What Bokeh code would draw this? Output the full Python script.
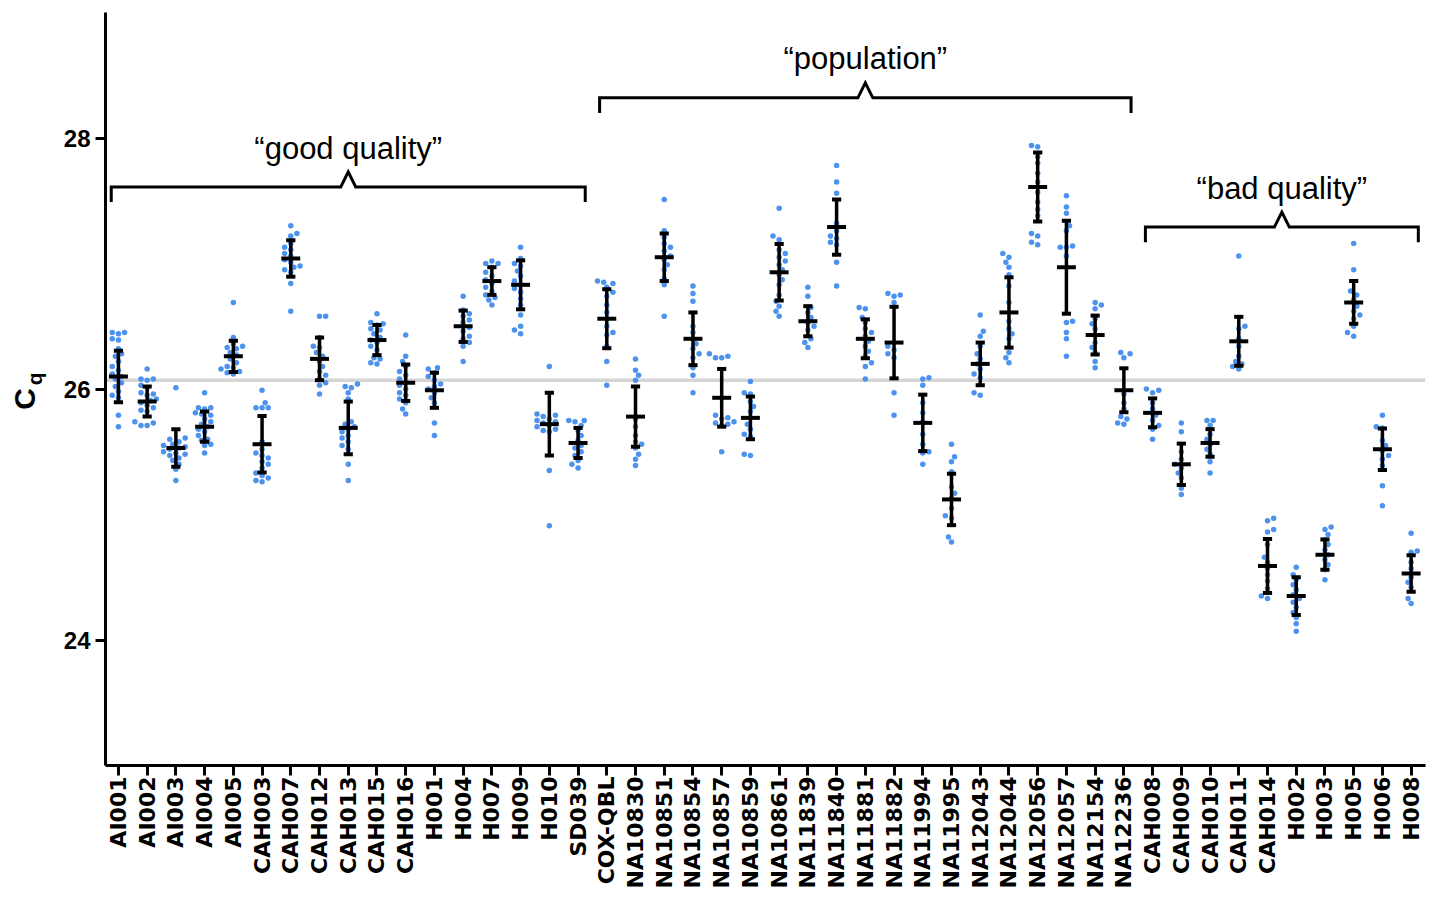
import math
from bokeh.plotting import figure
from bokeh.layouts import row
from bokeh.models import FixedTicker, Span, Range1d
from bokeh.core.properties import value
from bokeh.embed import file_html
from bokeh.resources import INLINE

# ---------------- data ----------------
samples = ["AI001", "AI002", "AI003", "AI004", "AI005", "CAH003", "CAH007", "CAH012",
           "CAH013", "CAH015", "CAH016", "H001", "H004", "H007", "H009", "H010", "SD039",
           "COX-QBL", "NA10830", "NA10851", "NA10854", "NA10857", "NA10859", "NA10861",
           "NA11839", "NA11840", "NA11881", "NA11882", "NA11994", "NA11995", "NA12043",
           "NA12044", "NA12056", "NA12057", "NA12154", "NA12236",
           "CAH008", "CAH009", "CAH010", "CAH011", "CAH014", "H002", "H003", "H005",
           "H006", "H008"]

means = [26.10, 25.90, 25.53, 25.70, 26.26, 25.56, 27.04, 26.24, 25.69, 26.39, 26.05,
         25.99, 26.50, 26.86, 26.83, 25.72, 25.57,
         26.56, 25.78, 27.05, 26.40, 25.93, 25.77, 26.93, 26.54, 27.29, 26.40, 26.37,
         25.73, 25.12, 26.20, 26.61, 27.61, 26.97, 26.43, 25.99,
         25.81, 25.40, 25.57, 26.38, 24.59, 24.35, 24.68, 26.69, 25.52, 24.53]

sds = [0.205, 0.12, 0.15, 0.12, 0.125, 0.225, 0.145, 0.17, 0.21, 0.12, 0.145,
       0.14, 0.125, 0.11, 0.195, 0.25, 0.12,
       0.235, 0.24, 0.19, 0.21, 0.23, 0.17, 0.225, 0.12, 0.22, 0.155, 0.285,
       0.225, 0.205, 0.17, 0.28, 0.275, 0.37, 0.155, 0.175,
       0.115, 0.165, 0.11, 0.195, 0.215, 0.15, 0.12, 0.17, 0.165, 0.145]

dots_good = [
    [26.45, 26.45, 26.44, 26.40, 26.39, 26.32, 26.28, 26.26, 26.22, 26.18, 26.15, 26.12,
     26.10, 26.08, 26.05, 26.02, 25.98, 25.95, 25.93, 25.79, 25.70],
    [26.16, 26.08, 26.08, 26.07, 26.03, 26.01, 25.97, 25.96, 25.95, 25.92, 25.91, 25.89,
     25.87, 25.85, 25.83, 25.82, 25.74, 25.73, 25.71, 25.71],
    [26.01, 25.61, 25.60, 25.58, 25.56, 25.55, 25.54, 25.53, 25.52, 25.50, 25.49, 25.48,
     25.47, 25.45, 25.43, 25.40, 25.36, 25.27],
    [25.97, 25.85, 25.85, 25.84, 25.81, 25.80, 25.79, 25.76, 25.74, 25.72, 25.70, 25.68,
     25.66, 25.63, 25.60, 25.59, 25.56, 25.55, 25.49],
    [26.69, 26.41, 26.36, 26.34, 26.33, 26.32, 26.29, 26.27, 26.24, 26.21, 26.18, 26.17,
     26.16, 26.14, 26.13, 26.12],
    [25.99, 25.89, 25.85, 25.85, 25.85, 25.58, 25.52, 25.49, 25.47, 25.45, 25.42, 25.40,
     25.37, 25.33, 25.31, 25.29, 25.27, 25.26],
    [27.30, 27.24, 27.22, 27.16, 27.13, 27.11, 27.08, 27.06, 27.03, 27.01, 26.98, 26.97,
     26.95, 26.93, 26.84, 26.62],
    [26.58, 26.58, 26.41, 26.34, 26.33, 26.29, 26.26, 26.22, 26.18, 26.14, 26.11, 26.08,
     26.05, 26.03, 25.96],
    [26.04, 26.02, 26.01, 25.97, 25.92, 25.74, 25.72, 25.70, 25.68, 25.66, 25.63, 25.61,
     25.58, 25.55, 25.52, 25.40, 25.27],
    [26.60, 26.53, 26.52, 26.51, 26.48, 26.47, 26.44, 26.41, 26.39, 26.37, 26.34, 26.31,
     26.25, 26.24, 26.21, 26.20],
    [26.43, 26.26, 26.22, 26.18, 26.14, 26.11, 26.08, 26.05, 26.03, 26.00, 25.97, 25.95,
     25.92, 25.89, 25.84, 25.80],
    [26.17, 26.16, 26.13, 26.10, 26.07, 26.04, 26.02, 26.00, 25.97, 25.93, 25.89, 25.73,
     25.63],
    [26.74, 26.63, 26.60, 26.58, 26.55, 26.53, 26.49, 26.46, 26.42, 26.40, 26.37, 26.34,
     26.22],
    [27.02, 27.00, 27.00, 26.97, 26.93, 26.90, 26.87, 26.84, 26.81, 26.78, 26.75, 26.73,
     26.71, 26.67],
    [27.13, 27.04, 27.00, 26.98, 26.94, 26.90, 26.86, 26.83, 26.80, 26.77, 26.72, 26.67,
     26.59, 26.50, 26.47, 26.44],
    [26.18, 25.80, 25.79, 25.78, 25.76, 25.75, 25.74, 25.73, 25.71, 25.70, 25.68, 25.67,
     25.66, 25.35, 24.91],
    [25.75, 25.75, 25.74, 25.71, 25.67, 25.63, 25.59, 25.55, 25.53, 25.50, 25.47, 25.43,
     25.40, 25.37],
]

dots_population = [
    [26.86, 26.85, 26.84, 26.81, 26.77, 26.74, 26.67, 26.61, 26.56, 26.50, 26.45, 26.43,
     26.34, 26.22, 26.03],
    [26.24, 26.15, 26.11, 26.07, 25.76, 25.70, 25.63, 25.58, 25.56, 25.53, 25.48, 25.44,
     25.39],
    [27.51, 27.26, 27.21, 27.16, 27.13, 27.10, 27.06, 27.03, 26.99, 26.95, 26.88, 26.83,
     26.58],
    [26.82, 26.76, 26.70, 26.50, 26.45, 26.40, 26.36, 26.32, 26.28, 26.25, 26.17, 26.11,
     25.97],
    [26.28, 26.26, 26.25, 26.25, 25.79, 25.77, 25.76, 25.74, 25.73, 25.72, 25.71, 25.50],
    [26.06, 25.97, 25.96, 25.90, 25.86, 25.82, 25.77, 25.72, 25.68, 25.64, 25.62, 25.48,
     25.47],
    [27.44, 27.22, 27.19, 27.11, 27.08, 27.05, 27.02, 26.99, 26.95, 26.91, 26.87, 26.83,
     26.75, 26.70, 26.66, 26.62, 26.58],
    [26.81, 26.74, 26.65, 26.61, 26.57, 26.53, 26.50, 26.47, 26.40, 26.37, 26.33],
    [27.78, 27.65, 27.56, 27.32, 27.26, 27.22, 27.20, 27.17, 27.15, 27.01, 26.82],
    [26.65, 26.64, 26.57, 26.53, 26.48, 26.45, 26.42, 26.38, 26.34, 26.30, 26.26, 26.21,
     26.18, 26.08],
    [26.76, 26.75, 26.74, 26.69, 26.34, 26.31, 26.28, 26.25, 25.97, 25.79],
    [26.09, 26.08, 26.03, 25.89, 25.81, 25.74, 25.64, 25.56, 25.50, 25.49, 25.40],
    [25.56, 25.46, 25.42, 25.34, 25.22, 25.17, 25.13, 25.05, 24.99, 24.97, 24.82, 24.78],
    [26.59, 26.46, 26.42, 26.34, 26.28, 26.24, 26.20, 26.16, 26.12, 26.09, 25.97, 25.95],
    [27.08, 27.05, 27.01, 26.97, 26.91, 26.82, 26.69, 26.54, 26.48, 26.44, 26.40, 26.29,
     26.25, 26.21],
    [27.94, 27.93, 27.85, 27.80, 27.72, 27.65, 27.57, 27.49, 27.43, 27.38, 27.24, 27.22,
     27.17, 27.15],
    [27.54, 27.45, 27.40, 27.30, 27.26, 27.14, 27.13, 27.13, 27.06, 26.54, 26.53, 26.45,
     26.40, 26.26],
    [26.69, 26.67, 26.64, 26.56, 26.52, 26.48, 26.43, 26.37, 26.33, 26.29, 26.22, 26.17],
    [26.29, 26.28, 26.25, 25.96, 25.89, 25.84, 25.78, 25.76, 25.73, 25.72],
]

dots_bad = [
    [26.00, 25.99, 25.97, 25.89, 25.84, 25.79, 25.75, 25.71, 25.68, 25.60],
    [25.73, 25.66, 25.50, 25.44, 25.40, 25.37, 25.33, 25.29, 25.21, 25.16],
    [25.75, 25.75, 25.71, 25.64, 25.60, 25.56, 25.52, 25.48, 25.42, 25.33],
    [27.06, 26.50, 26.48, 26.40, 26.34, 26.26, 26.22, 26.20, 26.18, 26.16],
    [24.97, 24.95, 24.88, 24.86, 24.76, 24.66, 24.62, 24.57, 24.52, 24.47, 24.41, 24.35,
     24.33],
    [24.58, 24.52, 24.48, 24.44, 24.40, 24.36, 24.33, 24.30, 24.26, 24.22, 24.18, 24.13,
     24.07],
    [24.90, 24.88, 24.84, 24.80, 24.76, 24.72, 24.68, 24.64, 24.60, 24.56, 24.48],
    [27.16, 26.95, 26.78, 26.75, 26.71, 26.66, 26.62, 26.59, 26.56, 26.50, 26.45, 26.42],
    [25.79, 25.70, 25.69, 25.59, 25.55, 25.51, 25.47, 25.44, 25.39, 25.23, 25.07],
    [24.85, 24.71, 24.70, 24.62, 24.57, 24.50, 24.46, 24.42, 24.33, 24.29],
]

reference_cq = 26.07

group_labels = ["\u201cgood quality\u201d", "\u201cpopulation\u201d", "\u201cbad quality\u201d"]
group_first = ["AI001", "COX-QBL", "CAH008"]
group_last = ["SD039", "NA12236", "H008"]
group_level = [27.61, 28.32, 27.29]

y_ticks = [24, 26, 28]
y_title_main = "C"
y_title_sub = "q"

# ---------------- layout constants ----------------
TOTAL_W, H = 1426, 891
LW = 50                       # width of the strip holding the y title
W = TOTAL_W - LW
B_LEFT, B_RIGHT, B_TOP, B_BOTTOM = 105 - LW, 1, 12, 123
X0, X1 = -0.45, 45.5
Y0, Y1 = 23.0, 29.0
XPX = (W - B_LEFT - B_RIGHT) / (X1 - X0)
YPX = (H - B_TOP - B_BOTTOM) / (Y1 - Y0)

DOT = "#4d93ee"


def swarm(vals, r=5.6, maxw=11.0):
    """deterministic beeswarm offsets (in category units)"""
    placed = []
    offs = [0.0] * len(vals)
    order = sorted(range(len(vals)), key=lambda k: vals[k])
    step = r * 0.55
    cands = [0.0]
    for k in range(1, 6):
        cands += [k * step, -k * step]
    for n, i in enumerate(order):
        y = vals[i] * YPX
        best = None
        cs = cands if n % 2 == 0 else [c * -1 for c in cands]
        for c in cs:
            if abs(c) > maxw:
                continue
            if all((c - px) ** 2 + (y - py) ** 2 >= r * r for px, py in placed):
                best = c
                break
        if best is None:
            best = min(cs, key=lambda c: sum(1 for px, py in placed
                                              if (c - px) ** 2 + (y - py) ** 2 < r * r))
        placed.append((best, y))
        offs[i] = best / XPX
    return offs


all_dots = dots_good + dots_population + dots_bad

dx, dy = [], []
for i, vals in enumerate(all_dots):
    offs = swarm(vals)
    for v, o in zip(vals, offs):
        dx.append(i + o)
        dy.append(v)

p = figure(width=W, height=H, x_range=Range1d(X0, X1), y_range=Range1d(Y0, Y1),
           output_backend="svg", toolbar_location=None,
           min_border_left=B_LEFT, min_border_right=B_RIGHT,
           min_border_top=B_TOP, min_border_bottom=B_BOTTOM)
p.outline_line_color = None
p.xgrid.visible = False
p.ygrid.visible = False
p.background_fill_color = "white"
p.border_fill_color = "white"

# reference line
p.add_layout(Span(location=reference_cq, dimension="width", line_color="#d5d5d5",
                  line_width=3.5, level="underlay"))

# dots
p.scatter(dx, dy, size=5.5, fill_color=DOT, line_color=None)

# error bars and means
xs = list(range(len(samples)))
lo = [m - s for m, s in zip(means, sds)]
hi = [m + s for m, s in zip(means, sds)]
p.segment(x0=xs, y0=lo, x1=xs, y1=hi, line_color="black", line_width=3.5)
CAP, MEAN_W = 0.16, 0.33
p.segment(x0=[x - CAP for x in xs], y0=hi, x1=[x + CAP for x in xs], y1=hi,
          line_color="black", line_width=4)
p.segment(x0=[x - CAP for x in xs], y0=lo, x1=[x + CAP for x in xs], y1=lo,
          line_color="black", line_width=4)
p.segment(x0=[x - MEAN_W for x in xs], y0=means, x1=[x + MEAN_W for x in xs], y1=means,
          line_color="black", line_width=4)

# group brackets
PAD, PEAK_W, PEAK_H, DROP, TXT = 0.25, 0.26, 0.12, 0.12, 0.31
bxs, bys, tx, ty = [], [], [], []
for first, last, lvl in zip(group_first, group_last, group_level):
    a = samples.index(first) - PAD
    b = samples.index(last) + PAD
    c = (a + b) / 2
    bxs.append([a, a, c - PEAK_W, c, c + PEAK_W, b, b])
    bys.append([lvl - DROP, lvl, lvl, lvl + PEAK_H, lvl, lvl, lvl - DROP])
    tx.append(c)
    ty.append(lvl + TXT)
p.multi_line(bxs, bys, line_color="black", line_width=3, line_join="miter")
p.text(x=tx, y=ty, text=group_labels, text_font=value("Liberation Sans"),
       text_font_size="31px", text_align="center", text_baseline="middle",
       text_color="black")

# axes
xa = p.xaxis[0]
xa.ticker = FixedTicker(ticks=xs)
xa.major_label_overrides = {i: s for i, s in enumerate(samples)}
xa.major_label_orientation = math.pi / 2
xa.major_label_text_font = "DejaVu Sans"
xa.major_label_text_font_style = "bold"
xa.major_label_text_font_size = "22px"
xa.major_label_text_color = "black"
xa.major_label_standoff = 1
xa.axis_line_width = 3
xa.axis_line_color = "black"
xa.major_tick_line_width = 3
xa.major_tick_line_color = "black"
xa.major_tick_out = 10
xa.major_tick_in = 0
xa.minor_tick_line_color = None

ya = p.yaxis[0]
ya.ticker = FixedTicker(ticks=y_ticks)
ya.major_label_text_font = "Liberation Sans"
ya.major_label_text_font_style = "bold"
ya.major_label_text_font_size = "24px"
ya.major_label_text_color = "black"
ya.major_label_standoff = 5
ya.axis_line_width = 3
ya.axis_line_color = "black"
ya.major_tick_line_width = 3
ya.major_tick_line_color = "black"
ya.major_tick_out = 10
ya.major_tick_in = 0
ya.minor_tick_line_color = None

# ---- y title strip (C with subscript q); same vertical frame/range as main plot ----
t = figure(width=LW, height=H, x_range=Range1d(0, LW), y_range=Range1d(Y0, Y1),
           x_axis_location=None, y_axis_location=None,
           output_backend="svg", toolbar_location=None,
           min_border_left=0, min_border_right=0,
           min_border_top=B_TOP, min_border_bottom=B_BOTTOM)
t.grid.visible = False
t.outline_line_color = None
t.background_fill_color = "white"
t.border_fill_color = "white"
t.text(x=[24], y=[25.92], text=[y_title_main], angle=math.pi / 2,
       text_font=value("Liberation Sans"), text_font_style="bold",
       text_font_size="30px", text_align="center", text_baseline="middle",
       text_color="black")
t.text(x=[34], y=[26.08], text=[y_title_sub], angle=math.pi / 2,
       text_font=value("Liberation Sans"), text_font_style="bold",
       text_font_size="21px", text_align="center", text_baseline="middle",
       text_color="black")

layout = row(t, p, spacing=0)
open("out.html", "w").write(file_html(layout, INLINE))
